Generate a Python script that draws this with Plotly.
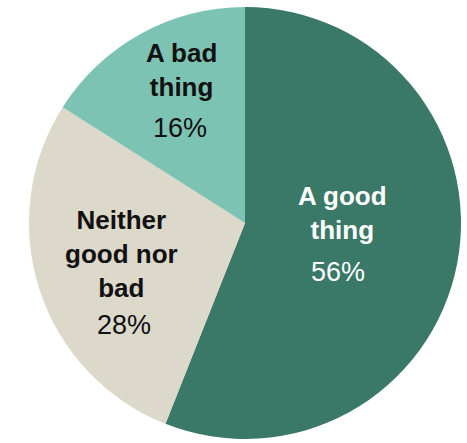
import plotly.graph_objects as go

labels = ["A good<br>thing", "Neither<br>good nor<br>bad", "A bad<br>thing"]
values = [56, 28, 16]
colors = ["#3a7867", "#dcd8ca", "#7dc3b3"]
text_colors = ["#ffffff", "#111111", "#111111"]

W, H = 467, 443

fig = go.Figure(go.Pie(
    labels=labels, values=values, sort=False, direction="clockwise", rotation=0,
    marker=dict(colors=colors, line=dict(width=0)),
    textinfo="none", hoverinfo="label+percent", showlegend=False,
    domain=dict(x=[29 / W, 461 / W], y=[1 - 439 / H, 1 - 7 / H]),
))

# label block centres (pixels) and percentage centres
label_pos = [(342, 213), (122, 254), (181, 70)]
pct_pos = [(338, 272), (124, 325), (180, 128)]

annotations = []
for lab, val, tc, (lx, ly), (px, py) in zip(labels, values, text_colors, label_pos, pct_pos):
    annotations.append(dict(
        x=lx / W, y=1 - ly / H, xref="paper", yref="paper", showarrow=False,
        text="<b>%s</b>" % lab, xanchor="center", yanchor="middle",
        font=dict(family="Liberation Sans, Arial", size=26, color=tc),
    ))
    annotations.append(dict(
        x=px / W, y=1 - py / H, xref="paper", yref="paper", showarrow=False,
        text="%d%%" % val, xanchor="center", yanchor="middle",
        font=dict(family="Liberation Sans, Arial", size=27, color=tc),
    ))

fig.update_layout(
    width=W, height=H, margin=dict(l=0, r=0, t=0, b=0),
    paper_bgcolor="white", plot_bgcolor="white",
    annotations=annotations,
)
fig.write_html("out.html", config={"displayModeBar": False},
               post_script="document.body.style.margin='0';")
